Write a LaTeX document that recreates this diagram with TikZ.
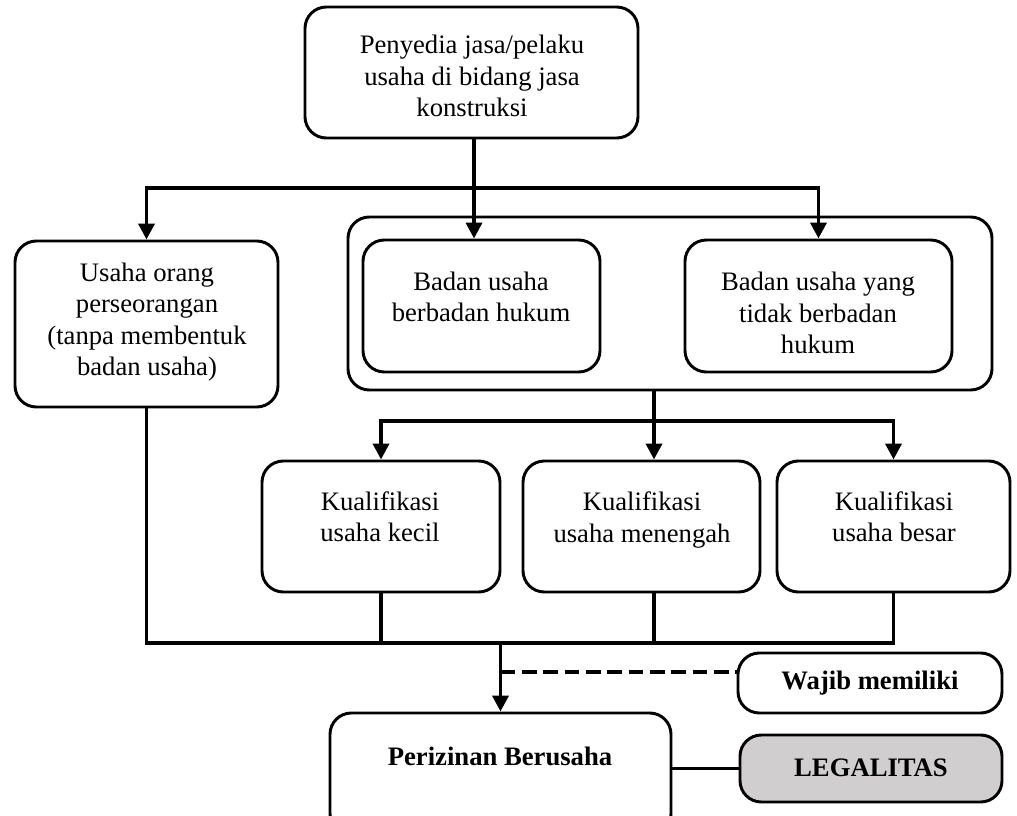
\documentclass[tikz,border=0pt]{standalone}
\usepackage{fontspec}
\setmainfont{Liberation Serif}
\usetikzlibrary{arrows.meta,fit}
\definecolor{legalgray}{RGB}{208,206,206}
\begin{document}
\begin{tikzpicture}[x=0.75pt,y=-0.75pt,
  box/.style={draw, line width=2.2pt, rounded corners=16pt, inner sep=0pt},
  txt/.style={align=center, inner sep=0pt, font=\fontsize{20}{23.5}\selectfont},
  btxt/.style={align=center, inner sep=0pt, font=\fontsize{20}{23.5}\selectfont\bfseries},
  link/.style={line width=2.8pt},
  arr/.style={link, -{Triangle[length=12pt,width=12pt]}},
  dashlink/.style={line width=2.8pt, dash pattern=on 11pt off 5pt},
]
\clip (0,0) rectangle (1017,816);
\fill[white] (0,0) rectangle (1017,816);

% top level
\node[box, fit={(305,7) (638,138)}] (top) {};
\node[txt] (top-t) at (472,76) {Penyedia jasa/pelaku\\usaha di bidang jasa\\konstruksi};

% forms of business
\node[box, fit={(15,241) (278,407)}] (solo) {};
\node[txt] (solo-t) at (147,322) {Usaha orang\\perseorangan\\(tanpa membentuk\\badan usaha)};
\node[box, fit={(348,217) (992,390)}] (group) {};
\node[box, fit={(363,240) (600,372)}] (bh) {};
\node[txt] (bh-t) at (481,297) {Badan usaha\\berbadan hukum};
\node[box, fit={(685,240) (952,372)}] (nbh) {};
\node[txt] (nbh-t) at (818,313) {Badan usaha yang\\tidak berbadan\\hukum};

% qualifications
\node[box, fit={(262,461) (500,592)}] (kk) {};
\node[txt] (kk-t) at (380,517) {Kualifikasi\\usaha kecil};
\node[box, fit={(523,461) (760,592)}] (km) {};
\node[txt] (km-t) at (642,520) {Kualifikasi\\usaha menengah};
\node[box, fit={(777,461) (1010,592)}] (kb) {};
\node[txt] (kb-t) at (894,517) {Kualifikasi\\usaha besar};

% licensing
\node[box, fit={(330,713) (671,835)}] (pb) {};
\node[btxt] (pb-t) at (500,756) {Perizinan Berusaha};
\node[box, fit={(738,653) (1002,713)}] (wm) {};
\node[btxt] (wm-t) at (870,683) {Wajib memiliki};
\node[box, fill=legalgray, fit={(740,735) (1002,802)}] (lg) {};
\node[btxt] (lg-t) at (871,768) {LEGALITAS};

% connectors from the top box
\coordinate (split) at (474,188);
\draw[arr] (split |- top.south) -- (split |- bh.north);
\draw[arr] (split) -| (solo.north);
\draw[arr] (split) -| (nbh.north);

% connectors to the qualification boxes
\coordinate (fork) at (654,421);
\draw[link] (fork |- group.south) -- (fork);
\draw[arr] (fork) -- (fork |- km.north);
\draw[arr] (fork) -| (kk.north);
\draw[arr] (fork) -| (kb.north);

% collecting bus and licensing
\coordinate (bus) at (500.5,643);
\draw[link] (solo.south) |- (kb.south |- bus) -- (kb.south);
\draw[link] (kk.south) -- (kk.south |- bus);
\draw[link] (fork |- km.south) -- (fork |- bus);
\draw[arr] (bus) -- (pb.north);
\coordinate (tap) at (500.5,672);
\draw[dashlink] (tap) -- (tap -| wm.west);
\draw[link] (lg.west -| pb.east) -- (lg.west);
\end{tikzpicture}
\end{document}
